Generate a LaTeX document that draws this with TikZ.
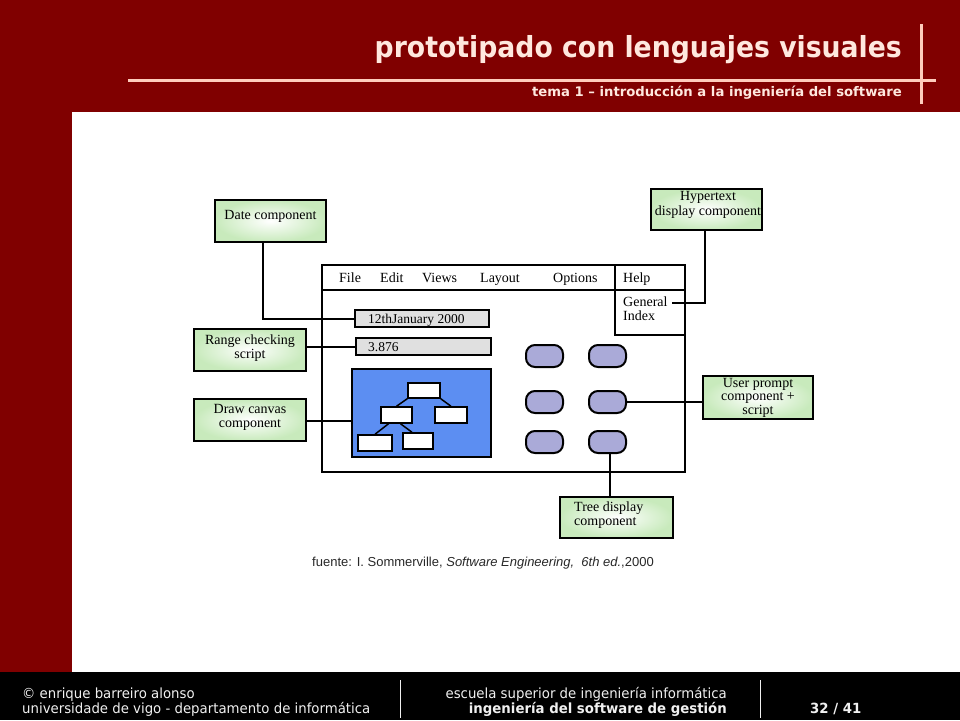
\documentclass[tikz,border=0pt]{standalone}
\usepackage{fontspec}
\setmainfont{Liberation Serif}
\newfontfamily\tfont[FakeStretch=0.92]{DejaVu Sans}
\newfontfamily\sfont{DejaVu Sans}
\newfontfamily\ffont[FakeStretch=0.95]{DejaVu Sans}
\newfontfamily\cfont{Liberation Sans}
\definecolor{dred}{RGB}{128,0,0}
\definecolor{pinkl}{RGB}{255,204,188}
\definecolor{titlec}{RGB}{255,232,222}
\definecolor{gboxc}{RGB}{200,234,188}
\definecolor{fieldgray}{RGB}{224,224,224}
\definecolor{canvasblue}{RGB}{92,142,242}
\definecolor{btnc}{RGB}{170,170,216}
\definecolor{captc}{RGB}{40,40,40}
\definecolor{footc}{RGB}{240,240,240}
\tikzset{
  gbox/.style={draw=black, line width=2pt, shading=radial, inner color=white, outer color=gboxc, inner sep=0pt},
  btext/.style={font=\fontsize{14}{14.5}\selectfont, align=center, inner sep=0pt},
  menutext/.style={font=\fontsize{14}{14}\selectfont, anchor=base west, inner sep=0pt},
  fieldbox/.style={draw=black, line width=2pt, fill=fieldgray, inner sep=0pt},
  btn/.style={draw=black, line width=2pt, fill=btnc, rounded corners=9pt, minimum width=37pt, minimum height=22pt, inner sep=0pt},
  tbox/.style={draw=black, line width=1.5pt, fill=white, inner sep=0pt},
  conn/.style={draw=black, line width=2pt},
  foot/.style={font=\ffont\fontsize{14}{14}\selectfont, text=footc, inner sep=0pt},
}
\begin{document}
\begin{tikzpicture}[x=1pt,y=-1pt]
\useasboundingbox (0,0) rectangle (960,720);
% background
\fill[dred] (0,0) rectangle (960,720);
\fill[white] (72,112) rectangle (960,672);
\fill[black] (0,672) rectangle (960,720);
% header
\draw[pinkl, line width=3pt] (128,80) -- (936,80);
\draw[pinkl, line width=3pt] (921,24) -- (921,104);
\node[anchor=base east, text=titlec, font=\tfont\bfseries\fontsize{29}{29}\selectfont, inner sep=0pt] (title) at (902,57) {prototipado con lenguajes visuales};
\node[anchor=base east, text=titlec, font=\sfont\bfseries\fontsize{13.2}{13.2}\selectfont, inner sep=0pt] (subtitle) at (902,96) {tema 1 – introducción a la ingeniería del software};
% footer
\draw[footc, line width=0.8pt] (400,680) -- (400,718);
\draw[footc, line width=0.8pt] (760,680) -- (760,718);
\node[foot, anchor=base west] (f1) at (22,698) {© enrique barreiro alonso};
\node[foot, anchor=base west] (f2) at (22,713) {universidade de vigo - departamento de informática};
\node[foot, anchor=base east] (f3) at (727,698) {escuela superior de ingeniería informática};
\node[foot, anchor=base east, font=\ffont\bfseries\fontsize{14}{14}\selectfont] (f4) at (727,713) {ingeniería del software de gestión};
\node[foot, anchor=base west, font=\ffont\bfseries\fontsize{14}{14}\selectfont] (f5) at (810,713) {32 / 41};
% main window
\draw[line width=2pt] (322,265) rectangle (685,472);
\draw[line width=2pt] (322,290) -- (685,290);
\draw[line width=2pt] (615,265) -- (615,335) -- (685,335);
\node[menutext] (mfile) at (339,282) {File};
\node[menutext] (medit) at (380,282) {Edit};
\node[menutext] (mviews) at (422,282) {Views};
\node[menutext] (mlayout) at (480,282) {Layout};
\node[menutext] (moptions) at (553,282) {Options};
\node[menutext] (mhelp) at (623,282) {Help};
\node[menutext] (mgeneral) at (623,306) {General};
\node[menutext] (mindex) at (623,320) {Index};
\coordinate (genend) at (672,303);
% fields
\node[fieldbox, minimum width=134pt, minimum height=17pt] (fdate) at (422,318.5) {};
\node[menutext, font=\fontsize{13.5}{13.5}\selectfont] (fdatet) at (368,323) {12thJanuary 2000};
\node[fieldbox, minimum width=135pt, minimum height=17pt] (fnum) at (423.5,346.5) {};
\node[menutext, font=\fontsize{13.5}{13.5}\selectfont] (fnumt) at (368,351) {3.876};
% canvas
\node[draw=black, line width=2pt, fill=canvasblue, minimum width=139pt, minimum height=88pt, inner sep=0pt] (canvas) at (421.5,413) {};
\node[tbox, minimum width=32pt, minimum height=15pt] (t1) at (424,390.5) {};
\node[tbox, minimum width=31pt, minimum height=16pt] (t2) at (396.5,415) {};
\node[tbox, minimum width=32pt, minimum height=16pt] (t3) at (451,415) {};
\node[tbox, minimum width=34pt, minimum height=16pt] (t4) at (375,443) {};
\node[tbox, minimum width=30pt, minimum height=16pt] (t5) at (418,441) {};
\draw[line width=1.5pt] (t1.south west) -- (t2.north);
\draw[line width=1.5pt] (t1.south east) -- (t3.north);
\draw[line width=1.5pt] ([xshift=-8pt]t2.south) -- (t4.north);
\draw[line width=1.5pt] ([xshift=4pt]t2.south) -- ([xshift=-6pt]t5.north);
% buttons
\node[btn] (b11) at (544.5,356) {};
\node[btn] (b12) at (607.5,356) {};
\node[btn] (b21) at (544.5,402) {};
\node[btn] (b22) at (607.5,402) {};
\node[btn] (b31) at (544.5,442) {};
\node[btn] (b32) at (607.5,442) {};
% green boxes
\node[gbox, minimum width=111pt, minimum height=42pt] (date) at (270.5,221) {};
\node[btext] (datet) at (270.5,216) {Date component};
\node[gbox, minimum width=111pt, minimum height=41pt] (hyper) at (706.5,209.5) {};
\node[btext] (hypert) at (708,205) {Hypertext\\display component};
\node[gbox, minimum width=112pt, minimum height=42pt] (range) at (250,350) {};
\node[btext] (ranget) at (250,348) {Range checking\\script};
\node[gbox, minimum width=112pt, minimum height=42pt] (dcanvas) at (250,420) {};
\node[btext] (dcanvast) at (250,417.5) {Draw canvas\\component};
\node[gbox, minimum width=110pt, minimum height=43pt] (user) at (758,397.5) {};
\node[btext, font=\fontsize{14}{13.5}\selectfont] (usert) at (758,397.5) {User prompt\\component +\\script};
\node[gbox, minimum width=113pt, minimum height=41pt] (tree) at (616.5,517.5) {};
\node[btext, align=left, anchor=west] (treet) at (574,515) {Tree display\\component};
% connectors
\draw[conn] ([xshift=-7.5pt]date.south) |- (fdate.west);
\draw[conn] (fnum.west -| range.east) -- (fnum.west);
\draw[conn] ([yshift=-1pt]dcanvas.east) -- ([yshift=-1pt]dcanvas.east -| canvas.west);
\draw[conn] ([xshift=-1.5pt]hyper.south) |- (genend);
\draw[conn] (b22.east) -- (b22.east -| user.west);
\draw[conn] ([xshift=2.5pt]b32.south) -- ([xshift=2.5pt]b32.south |- tree.north);
% caption
\node[anchor=base west, font=\cfont\fontsize{13}{13}\selectfont, text=captc, inner sep=0pt] (caption) at (312,566) {fuente: I. Sommerville, \textit{Software Engineering,~~6th ed.},2000};
\end{tikzpicture}
\end{document}
